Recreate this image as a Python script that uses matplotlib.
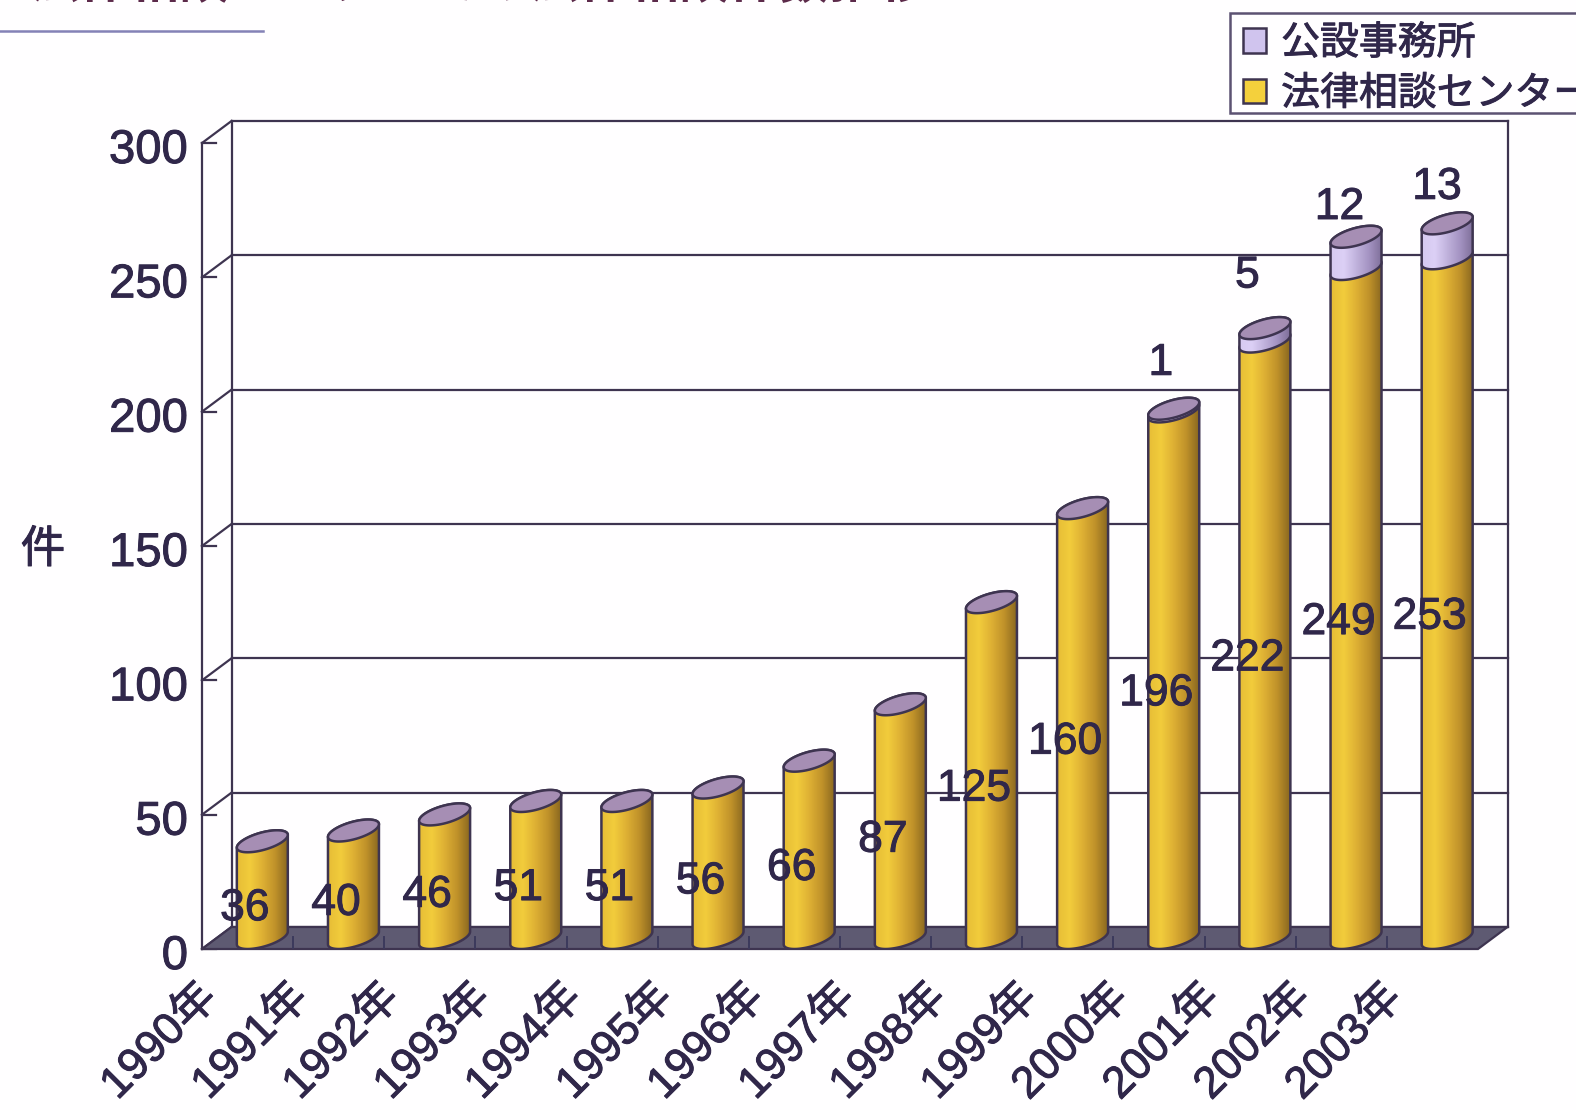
import numpy as np
import matplotlib
matplotlib.use("Agg")
import matplotlib.pyplot as plt
import matplotlib.patheffects as pe
from matplotlib.colors import LinearSegmentedColormap
from matplotlib.patches import Patch, Polygon, Rectangle
from matplotlib.transforms import ScaledTranslation

# -----------------------------
# 1. Data
# -----------------------------
years = ["1990年", "1991年", "1992年", "1993年", "1994年", "1995年", "1996年",
         "1997年", "1998年", "1999年", "2000年", "2001年", "2002年", "2003年"]
center_counts = [36, 40, 46, 51, 51, 56, 66, 87, 125, 160, 196, 222, 249, 253]
office_counts = [0, 0, 0, 0, 0, 0, 0, 0, 0, 0, 1, 5, 12, 13]
y_ticks = [0, 50, 100, 150, 200, 250, 300]

title = "法律相談センターでの法律相談件数推移"
y_label = "件"
center_name = "法律相談センター"
office_name = "公設事務所"

# -----------------------------
# 2. Style and depth settings
# -----------------------------
plt.rcParams["font.family"] = ["Liberation Sans", "Noto Sans CJK JP"]

ink = "#30274a"
line = "#3e3450"
floor_color = "#5e5a72"
cap_color = "#a68eb4"
yellow_map = LinearSegmentedColormap.from_list(
    "yellow", ["#e6bd36", "#f2cc3c", "#deb034", "#c0922a", "#8a6820"])
purple_map = LinearSegmentedColormap.from_list(
    "purple", ["#d6caf0", "#dcd0f6", "#c0b2dc", "#a493c2", "#7f6f9a"])
heavier = [pe.withStroke(linewidth=0.7, foreground=ink)]

fig_w, fig_h = 1576, 1110
left, right, bottom, top = 202, 1478, 949, 143

# oblique depth of the box, in data units
depth_x = 29.5 / ((right - left) / 14)
depth_y = 22.0 / ((bottom - top) / 300)
half_width = 0.228

fig = plt.figure(figsize=(fig_w / 100, fig_h / 100), dpi=100, facecolor="#fffeff")
ax = fig.add_axes([left / fig_w, 1 - bottom / fig_h,
                   (right - left) / fig_w, (bottom - top) / fig_h])
ax.patch.set_visible(False)
for spine in ax.spines.values():
    spine.set_visible(False)


def rim(center, value, t):
    x = center + half_width * np.cos(t) + depth_x / 2 * np.sin(t)
    y = value + depth_y / 2 + depth_y / 2 * np.sin(t)
    return np.column_stack([x, y])


def draw_segment(center, low, high, cmap, z):
    # cylinder body between two heights, shaded from left to right
    t0 = np.arctan2(depth_x / 2, half_width)
    front = rim(center, low, np.linspace(t0 + np.pi, t0 + 2 * np.pi, 60))
    back = rim(center, high, np.linspace(t0, t0 + np.pi, 60))
    body = Polygon(np.vstack([front, back]), closed=True, facecolor="none",
                   edgecolor=line, linewidth=1.8, zorder=z + 0.1)
    ax.add_patch(body)
    reach = np.hypot(half_width, depth_x / 2)
    shade = np.linspace(0, 1, 128).reshape(1, -1)
    im = ax.imshow(shade, cmap=cmap, aspect="auto", zorder=z,
                   extent=[center - reach, center + reach, low, high + depth_y])
    im.set_clip_path(body)


# -----------------------------
# 3. Box: back wall, side wall, floor
# -----------------------------
wall = dict(color=line, linewidth=1.6, clip_on=False, zorder=1)
for tick in y_ticks:
    ax.plot([depth_x, 14 + depth_x], [tick + depth_y] * 2, **wall)
    ax.plot([0, depth_x], [tick, tick + depth_y], **wall)
    ax.plot([0, 0.15], [tick, tick], **wall)
ax.plot([depth_x, depth_x], [depth_y, 300 + depth_y], **wall)
ax.plot([14 + depth_x, 14 + depth_x], [depth_y, 300 + depth_y], **wall)
ax.plot([0, 0], [0, 300], **wall)

floor = Polygon([[0, 0], [14, 0], [14 + depth_x, depth_y], [depth_x, depth_y]],
                closed=True, facecolor=floor_color, edgecolor=line, linewidth=1.6,
                clip_on=False, zorder=1.5)
ax.add_patch(floor)
for i in range(1, 14):
    ax.plot([i, i], [0, 4.5], color="#3c3a5c", linewidth=1.4, zorder=1.6)

# -----------------------------
# 4. Bars
# -----------------------------
for i, (center_n, office_n) in enumerate(zip(center_counts, office_counts)):
    mid = i + 0.5 + depth_x / 2
    total = center_n + office_n
    draw_segment(mid, 0, center_n, yellow_map, 3)
    if office_n > 0:
        draw_segment(mid, center_n, total, purple_map, 3.3)
    t = np.linspace(0, 2 * np.pi, 120)
    ax.add_patch(Polygon(rim(mid, total, t), closed=True, facecolor=cap_color,
                         edgecolor=line, linewidth=1.8, zorder=3.6))

# -----------------------------
# 5. Value labels
# -----------------------------
for i, center_n in enumerate(center_counts):
    ax.text(i + 0.47, center_n / 2 - 3, str(center_n), fontsize=32, color=ink,
            ha="center", va="center", zorder=6, path_effects=heavier)

office_shift_x = [0, 0, 0, 0, 0, 0, 0, 0, 0, 0, 0.02, -0.03, -0.02, 0.05]
office_shift_y = [0, 0, 0, 0, 0, 0, 0, 0, 0, 0, 21, 23.5, 15, 17.5]
for i, office_n in enumerate(office_counts):
    if office_n > 0:
        ax.text(i + 0.5 + office_shift_x[i],
                center_counts[i] + office_n + office_shift_y[i],
                str(office_n), fontsize=32, color=ink,
                ha="center", va="center", zorder=6, path_effects=heavier)

# -----------------------------
# 6. Axes, legend and title
# -----------------------------
ax.set_xlim(0, 14)
ax.set_ylim(0, 300)

ax.set_yticks(y_ticks)
ax.tick_params(axis="y", length=0, pad=10, labelsize=34, labelcolor=ink)
for label in ax.get_yticklabels():
    label.set_transform(label.get_transform()
                        + ScaledTranslation(0, -3 / 100, fig.dpi_scale_trans))
    label.set_path_effects(heavier)

ax.set_xticks(np.arange(14) + 0.5)
ax.set_xticklabels(years, rotation=45, ha="right", va="center",
                   rotation_mode="anchor", fontsize=32, color=ink)
ax.tick_params(axis="x", length=0, pad=0)
for label in ax.get_xticklabels():
    label.set_transform(label.get_transform()
                        + ScaledTranslation(-37 / 100, -42 / 100, fig.dpi_scale_trans))
    label.set_path_effects(heavier)

fig.text(43 / fig_w, 1 - 551 / fig_h, y_label, fontsize=32, color=ink,
         ha="center", va="center", path_effects=heavier)

# legend frame runs past the right edge of the figure, behind the axes
fig.add_artist(Rectangle((1230 / fig_w, 1 - 113 / fig_h), 400 / fig_w, 100 / fig_h,
                         transform=fig.transFigure, facecolor="#fffeff",
                         edgecolor="#5c5272", linewidth=1.8, zorder=-1))
handles = [Patch(facecolor="#d0c4ee", edgecolor=line, linewidth=1.8, label=office_name),
           Patch(facecolor="#f4d03c", edgecolor=line, linewidth=1.8, label=center_name)]
leg = ax.legend(handles=handles, loc="upper left",
                bbox_to_anchor=(1243 / fig_w, 1 - 26 / fig_h),
                bbox_transform=fig.transFigure, borderaxespad=0, fontsize=28,
                frameon=False, handlelength=0.58, handleheight=0.58, handletextpad=0.4,
                labelspacing=0.37, borderpad=0, labelcolor=ink)
leg.set_zorder(8)
for text in leg.get_texts():
    text.set_path_effects(heavier)

# heading sits against the top edge, with its rule underneath
fig.text(30 / fig_w, 1 + 2 / fig_h, title, fontsize=36, fontweight="bold",
         color="#5c2a4a", ha="left", va="baseline")
fig.add_artist(plt.Line2D([0, 263 / fig_w], [1 - 31 / fig_h] * 2, color="#8482b6",
                          linewidth=1.8))

fig.savefig("out.png", dpi=100, facecolor=fig.get_facecolor())
